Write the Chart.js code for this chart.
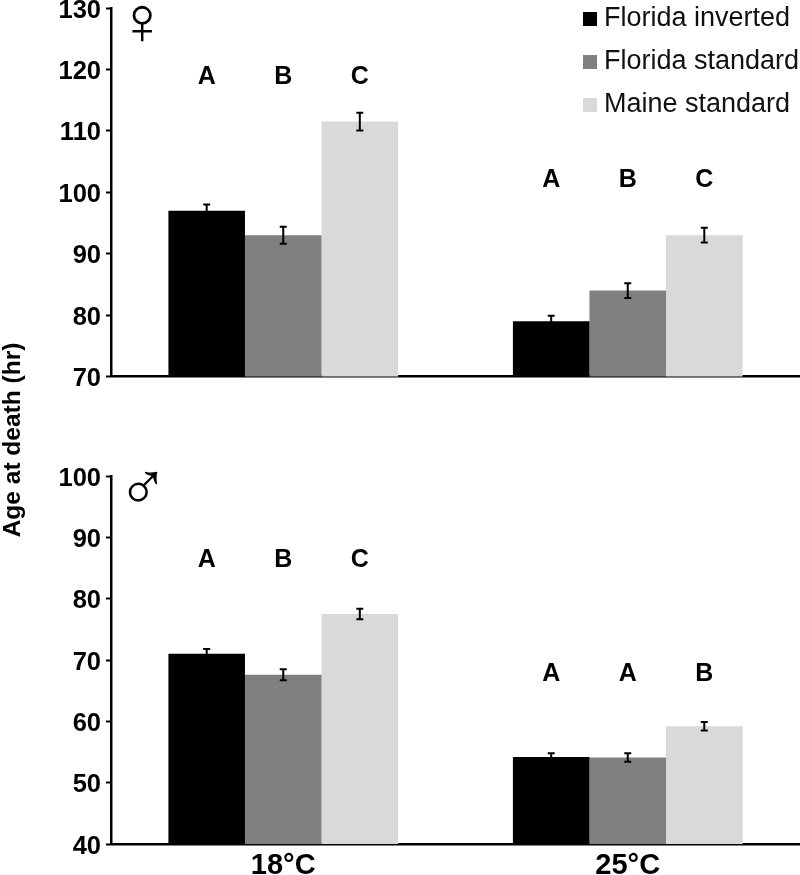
<!DOCTYPE html>
<html>
<head>
<meta charset="utf-8">
<style>
html,body{margin:0;padding:0;background:#fff;}
#wrap{position:relative;width:800px;height:875px;}
canvas{position:absolute;left:0;top:0;}
</style>
<script src="https://cdn.jsdelivr.net/npm/chart.js@4/dist/chart.umd.min.js"></script>
</head>
<body>
<div id="wrap">
<canvas id="female" width="800" height="875"></canvas>
<canvas id="male" width="800" height="875"></canvas>
</div>
<script>
const temperatures = ['18°C', '25°C'];
const seriesNames = ['Florida inverted', 'Florida standard', 'Maine standard'];
const seriesColors = ['#000000', '#808080', '#d9d9d9'];

const femaleInverted = [97, 79];
const femaleStandard = [93, 84];
const femaleMaine = [111.5, 93];
const femaleInvertedErr = [1.0, 0.9];
const femaleStandardErr = [1.4, 1.2];
const femaleMaineErr = [1.45, 1.2];
const femaleLetters = [['A', 'A'], ['B', 'B'], ['C', 'C']];
const femaleLetterLevels = [118.8, 102];

const maleInverted = [71, 54.2];
const maleStandard = [67.6, 54.1];
const maleMaine = [77.5, 59.2];
const maleInvertedErr = [0.8, 0.6];
const maleStandardErr = [0.9, 0.7];
const maleMaineErr = [0.85, 0.7];
const maleLetters = [['A', 'A'], ['B', 'A'], ['C', 'B']];
const maleLetterLevels = [86.3, 67.7];

const femaleTicks = [70, 80, 90, 100, 110, 120, 130];
const maleTicks = [40, 50, 60, 70, 80, 90, 100];
const yAxisTitle = 'Age at death (hr)';

const sansBold = size => `bold ${size}px "Liberation Sans", Arial, sans-serif`;

function annotations(errs, letters, levels, symbol, sx, sy) {
  return {
    id: 'annotations',
    afterDatasetsDraw(chart) {
      const ctx = chart.ctx, y = chart.scales.y;
      ctx.save();
      errs.forEach((err, ds) => {
        const meta = chart.getDatasetMeta(ds);
        meta.data.forEach((bar, i) => {
          const v = chart.data.datasets[ds].data[i];
          const top = y.getPixelForValue(v + err[i]);
          const bottom = y.getPixelForValue(v - err[i]);
          ctx.strokeStyle = '#000';
          ctx.lineWidth = 2;
          ctx.beginPath();
          ctx.moveTo(bar.x, top); ctx.lineTo(bar.x, bottom);
          ctx.moveTo(bar.x - 3.5, top); ctx.lineTo(bar.x + 3.5, top);
          ctx.moveTo(bar.x - 3.5, bottom); ctx.lineTo(bar.x + 3.5, bottom);
          ctx.stroke();
          ctx.fillStyle = '#000';
          ctx.font = sansBold(25);
          ctx.textAlign = 'center';
          ctx.textBaseline = 'middle';
          ctx.fillText(letters[ds][i], bar.x, y.getPixelForValue(levels[i]));
        });
      });
      ctx.fillStyle = '#000';
      ctx.font = '68px "Liberation Sans"';
      ctx.textAlign = 'center';
      ctx.textBaseline = 'middle';
      ctx.fillText(symbol, sx, sy);
      ctx.restore();
    }
  };
}

const moveLegend = {
  id: 'moveLegend',
  afterLayout(chart) {
    const l = chart.legend;
    if (!l) return;
    l.left = 573.5; l.right = 800;
    l.top = -10.5; l.bottom = 160;
  }
};

const yTitlePlugin = {
  id: 'yTitlePlugin',
  afterDraw(chart) {
    const ctx = chart.ctx;
    ctx.save();
    ctx.translate(13, 440);
    ctx.rotate(-Math.PI / 2);
    ctx.font = sansBold(24.5);
    ctx.fillStyle = '#000';
    ctx.textAlign = 'center';
    ctx.textBaseline = 'middle';
    ctx.fillText(yAxisTitle, 0, 0);
    ctx.restore();
  }
};

function build(id, a, b, c, ticks, padding, showX, extraPlugins, legend) {
  const lo = ticks[0], hi = ticks[ticks.length - 1];
  return new Chart(document.getElementById(id), {
    type: 'bar',
    data: {
      labels: temperatures,
      datasets: [a, b, c].map((d, i) => ({
        label: seriesNames[i],
        data: d,
        backgroundColor: seriesColors[i],
        borderWidth: 0,
        barPercentage: 1,
        categoryPercentage: 0.6667
      }))
    },
    options: {
      responsive: false,
      animation: false,
      layout: { autoPadding: false, padding },
      plugins: {
        tooltip: { enabled: false },
        title: { display: false },
        legend
      },
      scales: {
        x: {
          afterFit(s) { s.height = showX ? 31 : 0; },
          grid: { display: false, drawTicks: false },
          border: { display: true, color: '#000', width: 2.5 },
          ticks: {
            display: showX, color: '#000', padding: 5,
            font: { family: '"Liberation Sans", Arial, sans-serif', size: 29, weight: 'bold' }
          }
        },
        y: {
          min: lo, max: hi,
          afterFit(s) { s.width = 111; s.paddingTop = 0; s.paddingBottom = 0; },
          grid: { drawOnChartArea: false, drawTicks: true, tickLength: 5, tickColor: '#000', tickWidth: 2 },
          border: { display: true, color: '#000', width: 2.5 },
          afterBuildTicks(s) { s.ticks = ticks.map(v => ({ value: v })); },
          ticks: {
            color: '#000', padding: 5, labelOffset: 2.5,
            font: { family: '"Liberation Sans", Arial, sans-serif', size: 25.5, weight: 'bold' }
          }
        }
      }
    },
    plugins: extraPlugins
  });
}

build('female', femaleInverted, femaleStandard, femaleMaine, femaleTicks,
  { left: 0, right: 0, top: 8, bottom: 498.5 }, false,
  [annotations([femaleInvertedErr, femaleStandardErr, femaleMaineErr], femaleLetters, femaleLetterLevels, '♀', 142, 25), moveLegend],
  {
    display: true,
    position: 'chartArea',
    fullSize: false,
    align: 'start',
    labels: {
      usePointStyle: true, pointStyle: 'rect',
      boxWidth: 1, boxHeight: 14, padding: 16, color: '#111',
      font: { family: '"Liberation Sans", Arial, sans-serif', size: 27 }
    }
  });

build('male', maleInverted, maleStandard, maleMaine, maleTicks,
  { left: 0, right: 0, top: 476, bottom: 0 }, true,
  [annotations([maleInvertedErr, maleStandardErr, maleMaineErr], maleLetters, maleLetterLevels, '♂', 143, 491), yTitlePlugin],
  { display: false });
</script>
</body>
</html>
